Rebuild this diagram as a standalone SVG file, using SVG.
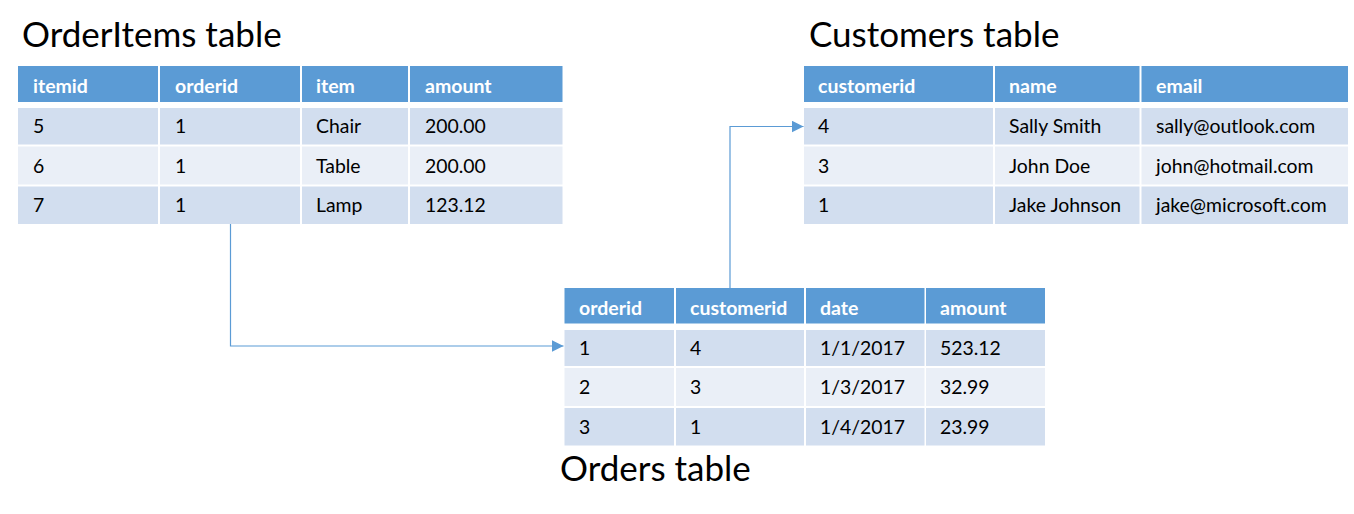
<svg xmlns="http://www.w3.org/2000/svg" width="1354" height="514" viewBox="0 0 1354 514">
  <style>
    .hd { fill: #5B9BD5; }
    .r1 { fill: #D2DEEF; }
    .r2 { fill: #EAEFF7; }
    .ht { font-family: Lato, "Liberation Sans", sans-serif; font-weight: bold; font-size: 19.5px; fill: #FFFFFF; }
    .dt { font-family: Lato, "Liberation Sans", sans-serif; font-size: 19.4px; fill: #000000; }
    .title { font-family: Lato, "Liberation Sans", sans-serif; font-size: 35px; fill: #000000; }
    .conn { fill: none; stroke: #5B9BD5; stroke-width: 1.2; }
  </style>
  <defs>
    <marker id="arrow" markerUnits="userSpaceOnUse" markerWidth="12" markerHeight="12" refX="12" refY="6" orient="auto">
      <path d="M0,0 L12,6 L0,12 z" fill="#5B9BD5"/>
    </marker>
  </defs>
  <rect width="1354" height="514" fill="#FFFFFF"/>

  <g id="orderitems">
    <text class="title" x="22" y="47">OrderItems table</text>
    <rect class="hd" x="18" y="66" width="140" height="36"/>
    <rect class="hd" x="160" y="66" width="140" height="36"/>
    <rect class="hd" x="302" y="66" width="106" height="36"/>
    <rect class="hd" x="410" y="66" width="152.5" height="36"/>
    <rect class="r1" x="18" y="108" width="140" height="36.5"/>
    <rect class="r1" x="160" y="108" width="140" height="36.5"/>
    <rect class="r1" x="302" y="108" width="106" height="36.5"/>
    <rect class="r1" x="410" y="108" width="152.5" height="36.5"/>
    <rect class="r2" x="18" y="146.5" width="140" height="38"/>
    <rect class="r2" x="160" y="146.5" width="140" height="38"/>
    <rect class="r2" x="302" y="146.5" width="106" height="38"/>
    <rect class="r2" x="410" y="146.5" width="152.5" height="38"/>
    <rect class="r1" x="18" y="186.5" width="140" height="37.5"/>
    <rect class="r1" x="160" y="186.5" width="140" height="37.5"/>
    <rect class="r1" x="302" y="186.5" width="106" height="37.5"/>
    <rect class="r1" x="410" y="186.5" width="152.5" height="37.5"/>
    <text class="ht" x="33" y="93">itemid</text>
    <text class="ht" x="175" y="93">orderid</text>
    <text class="ht" x="316" y="93">item</text>
    <text class="ht" x="425" y="93">amount</text>
    <text class="dt" x="33" y="133">5</text>
    <text class="dt" x="175" y="133">1</text>
    <text class="dt" x="316" y="133">Chair</text>
    <text class="dt" x="425" y="133">200.00</text>
    <text class="dt" x="33" y="172.5">6</text>
    <text class="dt" x="175" y="172.5">1</text>
    <text class="dt" x="316" y="172.5">Table</text>
    <text class="dt" x="425" y="172.5">200.00</text>
    <text class="dt" x="33" y="212">7</text>
    <text class="dt" x="175" y="212">1</text>
    <text class="dt" x="316" y="212">Lamp</text>
    <text class="dt" x="425" y="212">123.12</text>
  </g>

  <g id="customers">
    <text class="title" x="809" y="47">Customers table</text>
    <rect class="hd" x="804" y="66" width="189" height="36"/>
    <rect class="hd" x="995" y="66" width="144.5" height="36"/>
    <rect class="hd" x="1141.5" y="66" width="206.5" height="36"/>
    <rect class="r1" x="804" y="108" width="189" height="36.5"/>
    <rect class="r1" x="995" y="108" width="144.5" height="36.5"/>
    <rect class="r1" x="1141.5" y="108" width="206.5" height="36.5"/>
    <rect class="r2" x="804" y="146.5" width="189" height="38"/>
    <rect class="r2" x="995" y="146.5" width="144.5" height="38"/>
    <rect class="r2" x="1141.5" y="146.5" width="206.5" height="38"/>
    <rect class="r1" x="804" y="186.5" width="189" height="37.5"/>
    <rect class="r1" x="995" y="186.5" width="144.5" height="37.5"/>
    <rect class="r1" x="1141.5" y="186.5" width="206.5" height="37.5"/>
    <text class="ht" x="818" y="93">customerid</text>
    <text class="ht" x="1009" y="93">name</text>
    <text class="ht" x="1156" y="93">email</text>
    <text class="dt" x="818" y="133">4</text>
    <text class="dt" x="1009" y="133">Sally Smith</text>
    <text class="dt" x="1156" y="133">sally@outlook.com</text>
    <text class="dt" x="818" y="172.5">3</text>
    <text class="dt" x="1009" y="172.5">John Doe</text>
    <text class="dt" x="1156" y="172.5">john@hotmail.com</text>
    <text class="dt" x="818" y="212">1</text>
    <text class="dt" x="1009" y="212">Jake Johnson</text>
    <text class="dt" x="1156" y="212">jake@microsoft.com</text>
  </g>

  <g id="orders">
    <text class="title" x="560" y="481">Orders table</text>
    <rect class="hd" x="564.5" y="288" width="109.5" height="35.5"/>
    <rect class="hd" x="676" y="288" width="128" height="35.5"/>
    <rect class="hd" x="806" y="288" width="118.5" height="35.5"/>
    <rect class="hd" x="926" y="288" width="119" height="35.5"/>
    <rect class="r1" x="564.5" y="330" width="109.5" height="36"/>
    <rect class="r1" x="676" y="330" width="128" height="36"/>
    <rect class="r1" x="806" y="330" width="118.5" height="36"/>
    <rect class="r1" x="926" y="330" width="119" height="36"/>
    <rect class="r2" x="564.5" y="368" width="109.5" height="38"/>
    <rect class="r2" x="676" y="368" width="128" height="38"/>
    <rect class="r2" x="806" y="368" width="118.5" height="38"/>
    <rect class="r2" x="926" y="368" width="119" height="38"/>
    <rect class="r1" x="564.5" y="408" width="109.5" height="37.5"/>
    <rect class="r1" x="676" y="408" width="128" height="37.5"/>
    <rect class="r1" x="806" y="408" width="118.5" height="37.5"/>
    <rect class="r1" x="926" y="408" width="119" height="37.5"/>
    <text class="ht" x="579" y="315">orderid</text>
    <text class="ht" x="690" y="315">customerid</text>
    <text class="ht" x="820" y="315">date</text>
    <text class="ht" x="940" y="315">amount</text>
    <text class="dt" x="579" y="354.5">1</text>
    <text class="dt" x="690" y="354.5">4</text>
    <text class="dt" x="820" y="354.5">1/1/2017</text>
    <text class="dt" x="940" y="354.5">523.12</text>
    <text class="dt" x="579" y="393.5">2</text>
    <text class="dt" x="690" y="393.5">3</text>
    <text class="dt" x="820" y="393.5">1/3/2017</text>
    <text class="dt" x="940" y="393.5">32.99</text>
    <text class="dt" x="579" y="433.5">3</text>
    <text class="dt" x="690" y="433.5">1</text>
    <text class="dt" x="820" y="433.5">1/4/2017</text>
    <text class="dt" x="940" y="433.5">23.99</text>
  </g>

  <g id="connectors">
    <path class="conn" d="M230.5,224 V346 H563.5" marker-end="url(#arrow)"/>
    <path class="conn" d="M730,288 V126.5 H803.5" marker-end="url(#arrow)"/>
  </g>
</svg>
